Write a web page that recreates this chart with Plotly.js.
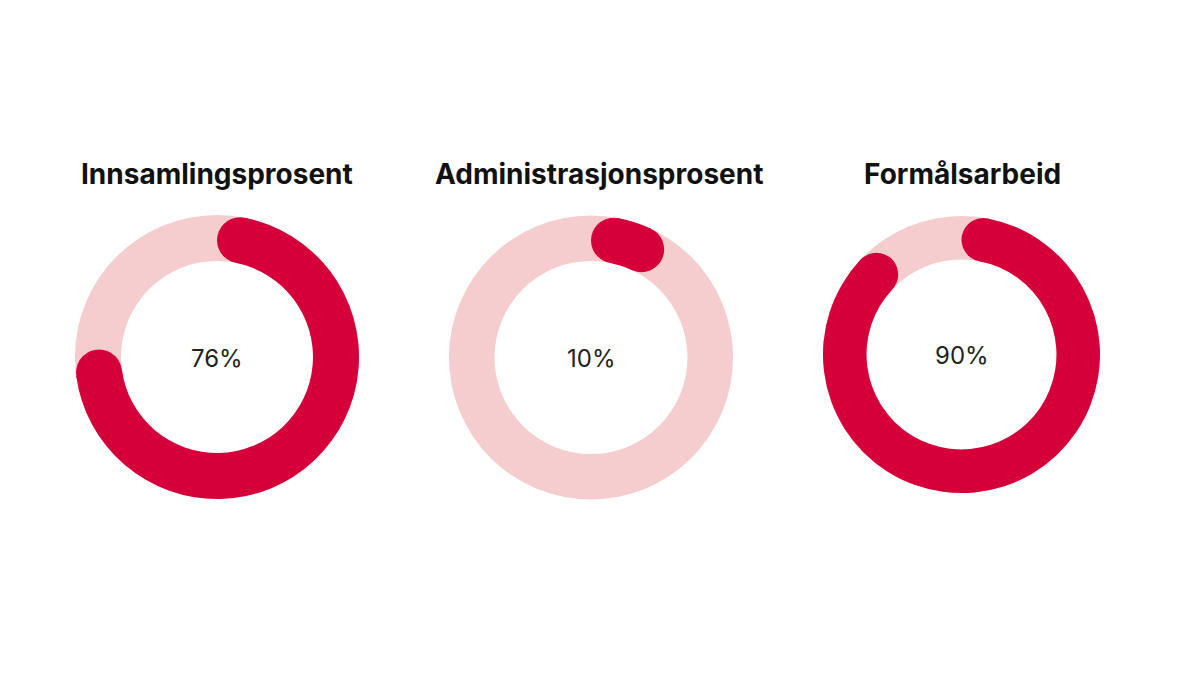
<!DOCTYPE html>
<html>
<head>
<meta charset="utf-8">
<script src="https://cdn.plot.ly/plotly-3.0.1.min.js"></script>
<style>html,body{margin:0;padding:0;background:#fff;}#chart{width:1180px;height:689px;}</style>
</head>
<body>
<div id="chart"></div>
<script>
// ---- data ----
const categories = ["Innsamlingsprosent", "Administrasjonsprosent", "Formålsarbeid"];
const percentages = [76, 10, 90];

// ---- layout helpers (positions / styles) ----
const W = 1180, H = 689;
const centers = [[217, 357], [591, 357.5], [961.5, 354.5]];
const outerR = [142, 142, 138.5];
const innerR = [96, 96.5, 95];
const titleX = [217, 599, 962];
const titleY = 174;
const RED = "#D5003A";
const PINK = "#F6CDCF";
const FONT = "Inter, Lato, 'Noto Sans', sans-serif";

const traces = [];
const shapes = [];
const annotations = [];

categories.forEach((cat, i) => {
  const [cx, cy] = centers[i];
  const R = outerR[i], r = innerR[i];
  const domain = {
    x: [(cx - R) / W, (cx + R) / W],
    y: [1 - (cy + R) / H, 1 - (cy - R) / H]
  };
  const hole = r / R;
  const frac = percentages[i] / 100;
  const half = (R - r) / 2;
  const rm = (R + r) / 2;
  const capAng = Math.asin(half / rm);          // radians
  const capFrac = capAng / (2 * Math.PI);

  // background ring
  traces.push({
    type: "pie", values: [1], labels: [cat + " bakgrunn"],
    domain: domain, hole: hole, sort: false, direction: "clockwise", rotation: 0,
    marker: { colors: [PINK], line: { width: 0 } },
    textinfo: "none", hoverinfo: "skip", showlegend: false
  });
  // value arc (shortened so rounded caps sit inside the value)
  traces.push({
    type: "pie",
    values: [capFrac, frac - 2 * capFrac, 1 - frac + capFrac],
    labels: ["a", "b", "c"],
    domain: domain, hole: hole, sort: false, direction: "clockwise", rotation: 0,
    marker: { colors: ["rgba(0,0,0,0)", RED, "rgba(0,0,0,0)"], line: { width: 0 } },
    textinfo: "none", hoverinfo: "skip", showlegend: false
  });
  // rounded caps
  [capFrac, frac - capFrac].forEach(f => {
    const t = f * 2 * Math.PI;
    const px = cx + rm * Math.sin(t);
    const py = cy - rm * Math.cos(t);
    shapes.push({
      type: "circle", xref: "x", yref: "y", layer: "above",
      x0: px - half, x1: px + half, y0: py - half, y1: py + half,
      fillcolor: RED, line: { width: 0 }
    });
  });
  // title
  annotations.push({
    x: titleX[i], y: titleY, xref: "x", yref: "y", text: cat,
    showarrow: false, xanchor: "center", yanchor: "middle",
    font: { family: FONT, size: 28, weight: 700, color: "#111" }
  });
  // center value
  annotations.push({
    x: cx, y: cy + 1, xref: "x", yref: "y", text: percentages[i] + "%",
    showarrow: false, xanchor: "center", yanchor: "middle",
    font: { family: FONT, size: 24, weight: 400, color: "#222" }
  });
});

// invisible trace to establish the cartesian axes
traces.unshift({ type: "scatter", x: [0, W], y: [0, H], mode: "markers",
  marker: { opacity: 0 }, hoverinfo: "skip", showlegend: false });

const layout = {
  width: W, height: H,
  margin: { l: 0, r: 0, t: 0, b: 0 },
  paper_bgcolor: "#fff", plot_bgcolor: "#fff",
  xaxis: { range: [0, W], visible: false, fixedrange: true },
  yaxis: { range: [H, 0], visible: false, fixedrange: true },
  showlegend: false,
  shapes: shapes,
  annotations: annotations
};

Plotly.newPlot("chart", traces, layout, { displayModeBar: false, staticPlot: true });
</script>
</body>
</html>
